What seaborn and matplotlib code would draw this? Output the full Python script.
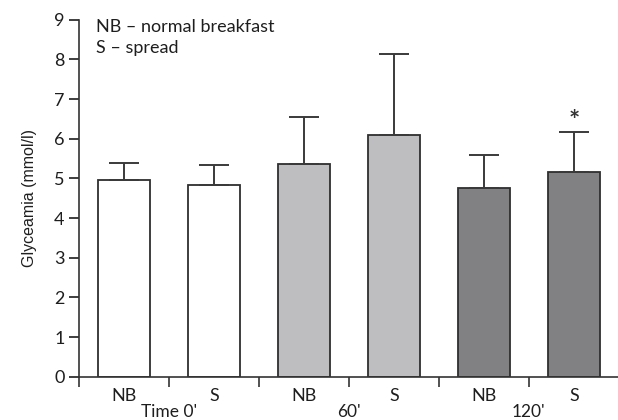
import pandas as pd
import matplotlib
matplotlib.use("Agg")
import matplotlib.pyplot as plt
import seaborn as sns

# ── Data ──────────────────────────────────────────────────────────────────────
bars = ["NB0", "S0", "NB60", "S60", "NB120", "S120"]
bar_labels = ["NB", "S", "NB", "S", "NB", "S"]
times = ["Time 0'", "60'", "120'"]
time_of_bar = ["Time 0'", "Time 0'", "60'", "60'", "120'", "120'"]
means = [4.97, 4.84, 5.36, 6.09, 4.77, 5.16]
sd_up = [0.41, 0.49, 1.20, 2.04, 0.81, 1.01]
star_bar = "S120"

GREY_LIGHT = "#bdbec2"
GREY_DARK = "#808185"
EDGE = "#2e2e2e"
TEXT = "#1e1e1e"

sns.set_theme(style="ticks")
plt.rcParams["font.family"] = ["Lato", "DejaVu Sans"]

df = pd.DataFrame({"bar": bars, "time": time_of_bar, "mean": means, "sd": sd_up})

fig = plt.figure(figsize=(6.18, 4.2), dpi=100)
ax = fig.add_axes([0.128, 0.103, 0.872, 0.850])

sns.barplot(data=df, x="bar", y="mean", hue="time", order=bars,
            hue_order=times, palette=["white", GREY_LIGHT, GREY_DARK],
            dodge=False, width=0.58, edgecolor=EDGE, linewidth=1.3,
            legend=False, ax=ax)

xs = list(range(len(bars)))
ax.errorbar(xs, df["mean"], yerr=[[0] * len(bars), df["sd"]], fmt="none",
            ecolor="#3a3a3a", elinewidth=1.4, capsize=11, capthick=1.4, zorder=1)

# asterisk above the marked bar
i_star = bars.index(star_bar)
ax.text(i_star, means[i_star] + sd_up[i_star] + 0.28, "*", ha="center", va="center",
        fontsize=19, color="#333333", fontweight="bold")

ax.set_xlim(-0.5, 5.49)
ax.set_ylim(0, 9)
ax.set_yticks(range(10))
ax.tick_params(axis="y", length=7.5, width=1.2, labelsize=13, colors=TEXT, pad=3)
ax.set_xticks(xs)
ax.set_xticklabels(bar_labels)
ax.tick_params(axis="x", length=0, labelsize=13, colors=TEXT, pad=8)
ax.set_xticks([i - 0.5 for i in xs], minor=True)
ax.tick_params(axis="x", which="minor", length=7, width=1.2, color="#333333")
ax.set_xlabel("")
ax.set_ylabel("Glyceamia (mmol/l)", fontsize=11.5, color=TEXT, labelpad=12,
              family=["Liberation Sans", "DejaVu Sans"])

# group labels under the boundary ticks
for k, t in enumerate(times):
    ax.annotate(t, xy=(2 * k + 0.5, 0), xycoords=ax.get_xaxis_transform(),
                xytext=(0, -19.5), textcoords="offset points",
                ha="center", va="top", fontsize=12.5, color=TEXT)

ax.text(-0.31, 9.02, "NB – normal breakfast", ha="left", va="top", fontsize=13, color=TEXT)
ax.text(-0.31, 8.48, "S – spread", ha="left", va="top", fontsize=13, color=TEXT)

for side in ["top", "right"]:
    ax.spines[side].set_visible(False)
for side in ["left", "bottom"]:
    ax.spines[side].set_linewidth(1.2)
    ax.spines[side].set_color("#333333")

fig.savefig("out.png", dpi=100)
